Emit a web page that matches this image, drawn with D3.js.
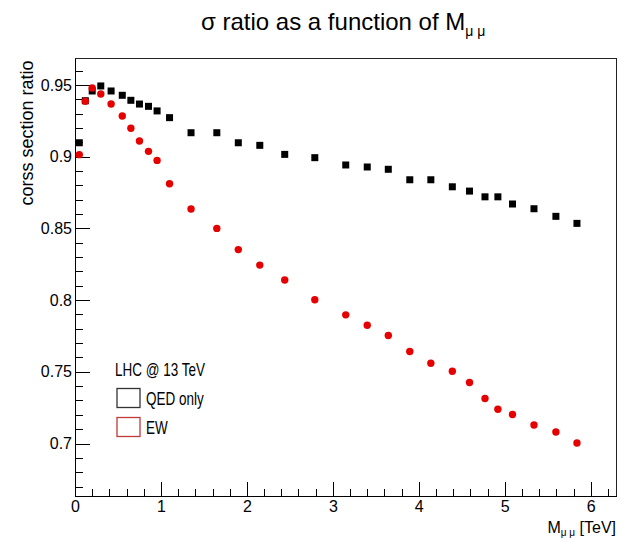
<!DOCTYPE html>
<html lang="en">
<head>
    <meta charset="UTF-8">
    <title>sigma ratio vs M_mumu</title>
    <script src="https://cdn.jsdelivr.net/npm/d3@7.9.0/dist/d3.min.js"></script>
    <style>
        body { margin: 0; background: #fff; }
        svg { display: block; font-family: "Liberation Sans", Arial, Helvetica, sans-serif; }
        .axis path, .axis line { stroke: #000; stroke-width: 1; shape-rendering: crispEdges; }
        .axis text { font-size: 16px; fill: #000; font-family: "Liberation Sans", Arial, sans-serif; }
    </style>
</head>
<body>
<svg id="chart" width="630" height="538"></svg>
<script>
// bin centres in dimuon mass (TeV)
const massTeV = [0.05, 0.12, 0.20, 0.30, 0.42, 0.55, 0.65, 0.75, 0.855, 0.955,
    1.10, 1.35, 1.65, 1.90, 2.15, 2.44, 2.79, 3.15, 3.40, 3.645,
    3.895, 4.14, 4.39, 4.59, 4.77, 4.92, 5.09, 5.34, 5.595, 5.84];

// QED only ratio
const qedOnly = [0.9097, 0.939, 0.9458, 0.9493, 0.9458, 0.9428, 0.9393, 0.9367, 0.9351, 0.9319,
    0.9272, 0.9167, 0.9167, 0.9097, 0.9079, 0.9016, 0.8993, 0.8942, 0.8928, 0.8912,
    0.8839, 0.8839, 0.8790, 0.8760, 0.8720, 0.8720, 0.8670, 0.8637, 0.8584, 0.8535];

// full EW ratio
const ewRatio = [0.9014, 0.9386, 0.9479, 0.9437, 0.9367, 0.9284, 0.9198, 0.9109, 0.9037, 0.8974,
    0.8811, 0.8635, 0.8500, 0.8352, 0.8244, 0.8140, 0.8002, 0.7897, 0.7825, 0.7753,
    0.7642, 0.7560, 0.7504, 0.7425, 0.7314, 0.7239, 0.7202, 0.7129, 0.7080, 0.7004];

const xMajorTicks = [0, 1, 2, 3, 4, 5, 6];
const yMajorTicks = [0.7, 0.75, 0.8, 0.85, 0.9, 0.95];
const legendLabels = ["QED only", "EW"];

const svg = d3.select('#chart');
svg.append('rect').attr('width', 630).attr('height', 538).attr('fill', '#fff');

// frame
let fLeft = 75, fRight = 616.5, fTop = 58, fBottom = 496;

let x = d3.scaleLinear().domain([0, 6.3]).range([fLeft, fRight]);
let y = d3.scaleLinear().domain([0.6634, 0.9688]).range([fBottom, fTop]);

// top / right frame lines
svg.append('rect')
    .attr('x', fLeft).attr('y', fTop)
    .attr('width', fRight - fLeft).attr('height', fBottom - fTop)
    .attr('fill', 'none').attr('stroke', '#222').attr('stroke-width', 1)
    .attr('shape-rendering', 'crispEdges');

// x axis: ticks point inward (up)
let xMinor = d3.range(0, 32).map(d => d / 5).filter(d => d <= 6.3);
svg.append('g').attr('class', 'axis')
    .attr('transform', `translate(0,${fBottom})`)
    .call(d3.axisBottom(x).tickValues(xMinor).tickSize(-7).tickFormat('').tickSizeOuter(0));
svg.append('g').attr('class', 'axis')
    .attr('transform', `translate(0,${fBottom})`)
    .call(d3.axisBottom(x).tickValues(xMajorTicks).tickSizeInner(-14).tickSizeOuter(0).tickPadding(5)
        .tickFormat(d3.format('d')));

// y axis: ticks point inward (right)
let yMinor = d3.range(67, 97).map(d => d / 100);
svg.append('g').attr('class', 'axis')
    .attr('transform', `translate(${fLeft},0)`)
    .call(d3.axisLeft(y).tickValues(yMinor).tickSize(-8).tickFormat('').tickSizeOuter(0));
svg.append('g').attr('class', 'axis')
    .attr('transform', `translate(${fLeft},0)`)
    .call(d3.axisLeft(y).tickValues(yMajorTicks).tickSizeInner(-15).tickSizeOuter(0).tickPadding(3)
        .tickFormat(d => String(d)));

// QED only: black squares
let ms = 7;
svg.append('g').selectAll('rect')
    .data(massTeV.map((m, i) => [m, qedOnly[i]]))
    .enter()
    .append('rect')
    .attr('x', d => x(d[0]) - ms / 2)
    .attr('y', d => y(d[1]) - ms / 2)
    .attr('width', ms).attr('height', ms)
    .attr('fill', '#000');

// EW: red circles
svg.append('g').selectAll('circle')
    .data(massTeV.map((m, i) => [m, ewRatio[i]]))
    .enter()
    .append('circle')
    .attr('cx', d => x(d[0]))
    .attr('cy', d => y(d[1]))
    .attr('r', 3.7)
    .attr('fill', '#e60000');

// title
let title = svg.append('text')
    .attr('x', 201).attr('y', 30)
    .style('font-size', '24px');
title.append('tspan').text('σ ratio as a function of M');
title.append('tspan').attr('dy', 6).style('font-size', '14px').text('μ μ');

// y title
svg.append('text')
    .attr('transform', 'translate(33,133) rotate(-90)')
    .attr('text-anchor', 'middle')
    .style('font-size', '18px')
    .text('corss section ratio');

// x title
let xt = svg.append('text')
    .attr('x', 616).attr('y', 533)
    .attr('text-anchor', 'end')
    .style('font-size', '16px');
xt.append('tspan').text('M');
xt.append('tspan').attr('dy', 3).style('font-size', '10px').text('μ μ');
xt.append('tspan').attr('dy', -3).text(' [TeV]');

// legend (text in the reference is narrow, so squeeze it horizontally)
let legend = svg.append('g');
let squeeze = 0.75;
legend.append('text')
    .attr('transform', `translate(115,376) scale(${squeeze},1)`)
    .style('font-size', '18px')
    .text('LHC @ 13 TeV');

let legendColors = ['#333', '#c03a3a'];
legendLabels.forEach((lab, i) => {
    let ly = 388.5 + i * 29;
    legend.append('rect')
        .attr('x', 117).attr('y', ly)
        .attr('width', 23).attr('height', 19)
        .attr('fill', 'none')
        .attr('stroke', legendColors[i]).attr('stroke-width', 1.3);
    legend.append('text')
        .attr('transform', `translate(146,${ly + 16.5}) scale(${squeeze},1)`)
        .style('font-size', '18px')
        .text(lab);
});
</script>
</body>
</html>
